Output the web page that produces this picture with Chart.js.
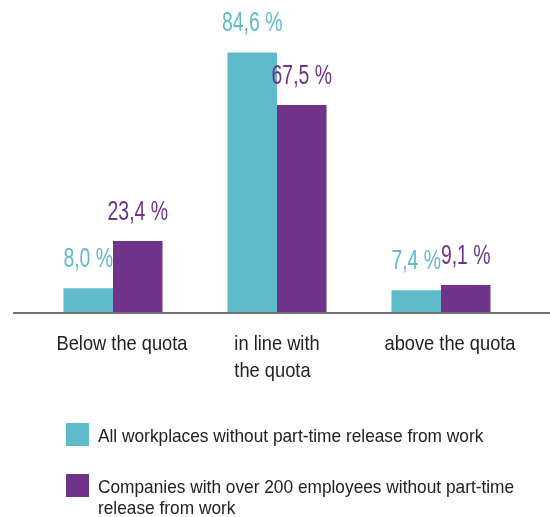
<!DOCTYPE html>
<html>
<head>
<meta charset="utf-8">
<script src="https://cdn.jsdelivr.net/npm/chart.js@4/dist/chart.umd.min.js"></script>
<style>
  body { margin: 0; background: #fff; }
</style>
</head>
<body>
<canvas id="chart" width="550" height="517"></canvas>
<script>
// 데이터
const categories = ['Below the quota', ['in line with', 'the quota'], 'above the quota'];
const seriesNames = [
    ['All workplaces without part-time release from work'],
    ['Companies with over 200 employees without part-time', 'release from work']
];
const allWorkplaces = [8.0, 84.6, 7.4];
const bigCompanies = [23.4, 67.5, 9.1];
const colors = ['#5fbac9', '#6f3489'];

const fontFamily = '"Liberation Sans", Arial, sans-serif';

// 가로로 좁힌 글자 (condensed 글꼴 대용)
function narrowText(ctx, text, x, y, align, squeeze) {
    ctx.save();
    ctx.translate(x, y);
    ctx.scale(squeeze, 1);
    ctx.textAlign = align;
    ctx.fillText(text, 0, 0);
    ctx.restore();
}

// 막대 위 값 라벨
const valueLabels = {
    id: 'valueLabels',
    afterDatasetsDraw(chart) {
        const ctx = chart.ctx;
        ctx.save();
        ctx.font = '27px ' + fontFamily;
        ctx.textBaseline = 'alphabetic';
        chart.data.datasets.forEach((ds, i) => {
            chart.getDatasetMeta(i).data.forEach((bar, j) => {
                ctx.fillStyle = colors[i];
                const txt = ds.data[j].toFixed(1).replace('.', ',') + ' %';
                narrowText(ctx, txt, bar.x, bar.y - 21, 'center', 0.72);
            });
        });
        ctx.restore();
    }
};

// 기준선 + x축 라벨
const axisLabels = {
    id: 'axisLabels',
    afterDatasetsDraw(chart) {
        const ctx = chart.ctx;
        const xs = chart.scales.x;
        const y0 = chart.scales.y.getPixelForValue(0);
        const squeeze = 0.87;
        ctx.save();
        ctx.strokeStyle = '#707070';
        ctx.lineWidth = 2;
        ctx.beginPath();
        ctx.moveTo(13, y0);
        ctx.lineTo(chart.width, y0);
        ctx.stroke();

        ctx.font = '21px ' + fontFamily;
        ctx.fillStyle = '#222';
        ctx.textBaseline = 'alphabetic';
        chart.data.labels.forEach((label, i) => {
            const x = xs.getPixelForTick(i);
            if (Array.isArray(label)) {
                // 여러 줄 라벨은 왼쪽 정렬 블록
                const w = Math.max(...label.map(l => ctx.measureText(l).width)) * squeeze;
                label.forEach((line, k) => {
                    narrowText(ctx, line, x - w / 2, y0 + 37 + k * 26.5, 'left', squeeze);
                });
            } else {
                narrowText(ctx, label, x + 9, y0 + 37, 'center', squeeze);
            }
        });
        ctx.restore();
    }
};

// 범례
const boxLegend = {
    id: 'boxLegend',
    afterDraw(chart) {
        const ctx = chart.ctx;
        ctx.save();
        ctx.font = '19px ' + fontFamily;
        ctx.textBaseline = 'alphabetic';
        seriesNames.forEach((lines, i) => {
            const top = 423 + i * 51;
            ctx.fillStyle = colors[i];
            ctx.fillRect(66, top, 23, 23);
            ctx.fillStyle = '#222';
            lines.forEach((line, k) => {
                narrowText(ctx, line, 98, top + 18.5 + k * 21.5, 'left', 0.91);
            });
        });
        ctx.restore();
    }
};

function createChart() {
    const ctx = document.getElementById('chart').getContext('2d');

    new Chart(ctx, {
        type: 'bar',
        data: {
            labels: categories,
            datasets: [{
                label: seriesNames[0].join(' '),
                data: allWorkplaces,
                backgroundColor: colors[0]
            }, {
                label: seriesNames[1].join(' '),
                data: bigCompanies,
                backgroundColor: colors[1]
            }]
        },
        options: {
            responsive: false,
            animation: false,
            layout: {
                padding: { left: 31, right: 27, top: 5, bottom: 0 }
            },
            categoryPercentage: 0.604,
            barPercentage: 1,
            plugins: {
                legend: { display: false },
                tooltip: { enabled: false }
            },
            scales: {
                x: {
                    grid: { display: false, drawTicks: false },
                    border: { display: false },
                    ticks: { display: false },
                    afterFit(scale) { scale.height = 204; }
                },
                y: {
                    display: false,
                    min: 0,
                    max: 100
                }
            }
        },
        plugins: [axisLabels, valueLabels, boxLegend]
    });
}

createChart();
</script>
</body>
</html>
